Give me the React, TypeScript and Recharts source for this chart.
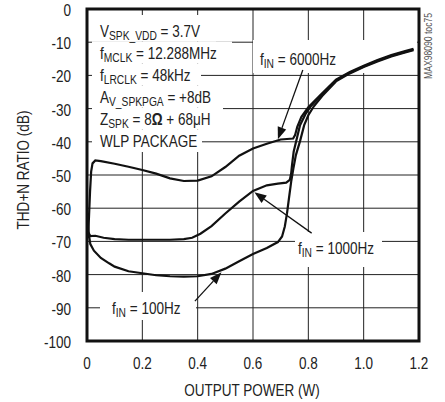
import React from 'react';
import {
  LineChart,
  Line,
  XAxis,
  YAxis,
  CartesianGrid,
  ReferenceArea,
  ReferenceLine,
  Customized,
} from 'recharts';

// ---------- data ----------
const xTicks = [0, 0.2, 0.4, 0.6, 0.8, 1.0, 1.2];
const yTicks = [0, -10, -20, -30, -40, -50, -60, -70, -80, -90, -100];

const f6000Hz = [
  { x: 0.003, y: -69 }, { x: 0.007, y: -63 }, { x: 0.011, y: -55 }, { x: 0.015, y: -49 },
  { x: 0.02, y: -46.5 }, { x: 0.03, y: -45.6 }, { x: 0.05, y: -45.8 }, { x: 0.1, y: -46.6 },
  { x: 0.15, y: -47.5 }, { x: 0.2, y: -48.5 }, { x: 0.25, y: -49.6 }, { x: 0.3, y: -51 },
  { x: 0.35, y: -51.8 }, { x: 0.4, y: -51.7 }, { x: 0.45, y: -50.4 }, { x: 0.5, y: -47.6 },
  { x: 0.55, y: -44.2 }, { x: 0.6, y: -42 }, { x: 0.65, y: -40.6 }, { x: 0.7, y: -39.3 },
  { x: 0.745, y: -39 }, { x: 0.752, y: -38 }, { x: 0.76, y: -35.5 }, { x: 0.775, y: -32.5 },
  { x: 0.8, y: -29.6 }, { x: 0.84, y: -26.2 }, { x: 0.9, y: -21.3 }, { x: 0.95, y: -19 },
  { x: 1.0, y: -17.1 }, { x: 1.05, y: -15.4 }, { x: 1.1, y: -13.9 }, { x: 1.15, y: -12.7 },
  { x: 1.18, y: -12 },
];

const f1000Hz = [
  { x: 0.003, y: -67 }, { x: 0.012, y: -68.4 }, { x: 0.03, y: -68.3 }, { x: 0.06, y: -68.9 },
  { x: 0.1, y: -69.3 }, { x: 0.15, y: -69.5 }, { x: 0.2, y: -69.5 }, { x: 0.3, y: -69.5 },
  { x: 0.35, y: -69.3 }, { x: 0.38, y: -68.9 }, { x: 0.41, y: -67.7 }, { x: 0.45, y: -65.4 },
  { x: 0.5, y: -61.6 }, { x: 0.55, y: -58 }, { x: 0.6, y: -54.8 }, { x: 0.65, y: -53.1 },
  { x: 0.69, y: -52.6 }, { x: 0.72, y: -52.3 }, { x: 0.733, y: -51.5 }, { x: 0.738, y: -49.5 },
  { x: 0.741, y: -47 }, { x: 0.747, y: -43 }, { x: 0.756, y: -39.8 }, { x: 0.77, y: -35 },
  { x: 0.79, y: -31.6 }, { x: 0.81, y: -29.2 }, { x: 0.84, y: -26.5 }, { x: 0.9, y: -21.5 },
  { x: 0.95, y: -19.2 }, { x: 1.0, y: -17.3 }, { x: 1.05, y: -15.6 }, { x: 1.1, y: -14.1 },
  { x: 1.15, y: -12.9 }, { x: 1.18, y: -12.2 },
];

const f100Hz = [
  { x: 0.003, y: -62 }, { x: 0.006, y: -67.5 }, { x: 0.012, y: -70.8 }, { x: 0.025, y: -72.8 },
  { x: 0.05, y: -75 }, { x: 0.08, y: -76.6 }, { x: 0.1, y: -77.6 }, { x: 0.15, y: -79 },
  { x: 0.2, y: -79.6 }, { x: 0.25, y: -80.2 }, { x: 0.3, y: -80.5 }, { x: 0.35, y: -80.6 },
  { x: 0.4, y: -80.5 }, { x: 0.45, y: -79.8 }, { x: 0.5, y: -78.2 }, { x: 0.55, y: -76 },
  { x: 0.6, y: -73.8 }, { x: 0.65, y: -72 }, { x: 0.69, y: -70.2 }, { x: 0.705, y: -68.5 },
  { x: 0.715, y: -65.5 }, { x: 0.723, y: -61.5 }, { x: 0.73, y: -57 }, { x: 0.738, y: -52 },
  { x: 0.746, y: -48 }, { x: 0.755, y: -44 }, { x: 0.77, y: -39.8 }, { x: 0.785, y: -35 },
  { x: 0.8, y: -32 }, { x: 0.82, y: -29.3 }, { x: 0.85, y: -26.2 }, { x: 0.9, y: -21.8 },
  { x: 0.95, y: -19.4 }, { x: 1.0, y: -17.5 }, { x: 1.05, y: -15.8 }, { x: 1.1, y: -14.3 },
  { x: 1.15, y: -13.1 }, { x: 1.18, y: -12.4 },
];

// ---------- layout ----------
const W = 445;
const H = 402;
const PL = 87, PT = 9, PR = 419, PB = 341;
const FONT = "'Liberation Sans', Arial, sans-serif";
const TXT = '#222';
const SX = 0.82; // horizontal condensing of the font
const FS = 16.5;
const SUB = 12.5;

// white backgrounds behind annotation text (pixel boxes: x1,y1,x2,y2)
const boxes = [
  [92, 15, 216, 41.5],
  [92, 41.5, 232, 63.5],
  [92, 63.5, 201, 85.5],
  [92, 85.5, 224, 107.5],
  [92, 107.5, 223, 129.5],
  [92, 129.5, 202, 152],
  [253, 40, 417, 73],
  [295, 232, 382, 267],
  [100, 292, 196, 320],
];

const arrows = [
  { from: { x: 0.78, y: -18.4 }, to: { x: 0.69, y: -39.2 } },
  { from: { x: 0.812, y: -67.5 }, to: { x: 0.605, y: -55.2 } },
  { from: { x: 0.39, y: -88.0 }, to: { x: 0.486, y: -79.3 } },
];

const Arrow = (props: any) => {
  const { x1, y1, x2, y2 } = props;
  const dx = x2 - x1, dy = y2 - y1;
  const len = Math.hypot(dx, dy) || 1;
  const ux = dx / len, uy = dy / len;
  const L = 12, Wd = 4.5;
  const bx = x2 - ux * L, by = y2 - uy * L;
  const pts = `${x2},${y2} ${bx - uy * Wd},${by + ux * Wd} ${bx + uy * Wd},${by - ux * Wd}`;
  return (
    <g>
      <line x1={x1} y1={y1} x2={bx} y2={by} stroke="#111" strokeWidth={1.3} />
      <polygon points={pts} fill="#111" />
    </g>
  );
};

// condensed text helper
const NText = ({ x, y, anchor = 'start', size = FS, fill = TXT, rotate = 0, children }: any) => (
  <text
    transform={`translate(${x},${y})${rotate ? ` rotate(${rotate})` : ''} scale(${SX},1)`}
    textAnchor={anchor}
    fontFamily={FONT}
    fontSize={size}
    fill={fill}
  >
    {children}
  </text>
);

const XTick = (props: any) => {
  const { x, payload } = props;
  const v = payload.value;
  const label = v === 0 ? '0' : v.toFixed(1);
  return <NText x={x} y={368.5} anchor="middle">{label}</NText>;
};

const YTick = (props: any) => {
  const { y, payload } = props;
  return <NText x={71} y={y + 7} anchor="end">{String(payload.value)}</NText>;
};

const Sub = ({ main, sub, rest }: any) => (
  <>
    <tspan>{main}</tspan>
    <tspan fontSize={SUB} dy={3}>{sub}</tspan>
    <tspan dy={-3}>{rest}</tspan>
  </>
);

const Texts = () => (
  <g>
    {boxes.map((b, i) => (
      <rect key={i} x={b[0]} y={b[1]} width={b[2] - b[0]} height={b[3] - b[1]} fill="#fff" />
    ))}
    <NText x={100} y={37}><Sub main="V" sub="SPK_VDD" rest=" = 3.7V" /></NText>
    <NText x={100} y={59}><Sub main="f" sub="MCLK" rest=" = 12.288MHz" /></NText>
    <NText x={100} y={81}><Sub main="f" sub="LRCLK" rest=" = 48kHz" /></NText>
    <NText x={100} y={103}><Sub main="A" sub="V_SPKPGA" rest=" = +8dB" /></NText>
    <NText x={100} y={125}>
      <tspan>Z</tspan>
      <tspan fontSize={SUB} dy={3}>SPK</tspan>
      <tspan dy={-3}> = 8</tspan>
      <tspan fontWeight="bold">Ω</tspan>
      <tspan> + 68μH</tspan>
    </NText>
    <NText x={100} y={147}>WLP PACKAGE</NText>

    <NText x={260} y={65}><Sub main="f" sub="IN" rest=" = 6000Hz" /></NText>
    <NText x={298} y={254}><Sub main="f" sub="IN" rest=" = 1000Hz" /></NText>
    <NText x={112} y={314}><Sub main="f" sub="IN" rest=" = 100Hz" /></NText>

    <NText x={252} y={396} anchor="middle">OUTPUT POWER (W)</NText>
    <NText x={29} y={170} anchor="middle" rotate={-90}>THD+N RATIO (dB)</NText>
    <NText x={432} y={46} anchor="middle" size={10.5} fill="#555" rotate={-90}>MAX98090 toc75</NText>
  </g>
);

export default function App() {
  return (
    <div style={{ position: 'absolute', left: 0, top: 0, width: W, height: H, background: '#fff' }}>
      <LineChart
        width={W}
        height={H}
        margin={{ top: PT, right: W - PR, bottom: H - PB - 30, left: PL - 60 }}
      >
        <CartesianGrid stroke="#222" strokeWidth={1} horizontal vertical />
        <XAxis
          dataKey="x"
          type="number"
          domain={[0, 1.2]}
          ticks={xTicks}
          axisLine={false}
          tickLine={false}
          height={30}
          tick={<XTick />}
          allowDataOverflow
        />
        <YAxis
          type="number"
          domain={[-100, 0]}
          ticks={yTicks}
          axisLine={false}
          tickLine={false}
          width={60}
          tick={<YTick />}
          allowDataOverflow
        />
        <Customized component={Texts} />
        <Line data={f6000Hz} dataKey="y" type="linear" stroke="#111" strokeWidth={2.2} dot={false} isAnimationActive={false} />
        <Line data={f1000Hz} dataKey="y" type="linear" stroke="#111" strokeWidth={2.2} dot={false} isAnimationActive={false} />
        <Line data={f100Hz} dataKey="y" type="linear" stroke="#111" strokeWidth={2.2} dot={false} isAnimationActive={false} />
        {arrows.map((a, i) => (
          <ReferenceLine key={'a' + i} segment={[a.from, a.to]} shape={Arrow} ifOverflow="visible" />
        ))}
        <ReferenceArea x1={0} x2={1.2} y1={-100} y2={0} fill="none" stroke="#111" strokeWidth={3} ifOverflow="visible" />
      </LineChart>
    </div>
  );
}
